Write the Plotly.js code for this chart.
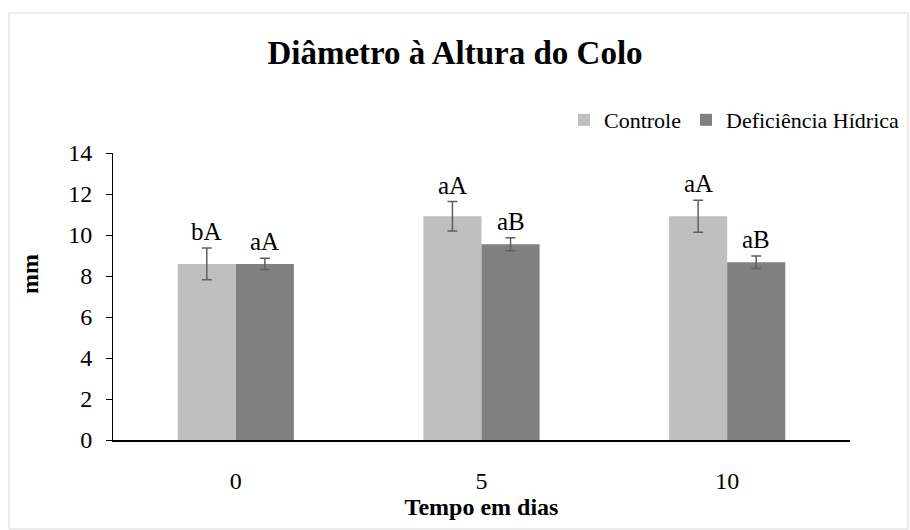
<!DOCTYPE html>
<html>
<head>
<meta charset="utf-8">
<script src="https://cdn.plot.ly/plotly-3.0.1.min.js"></script>
<style>html,body{margin:0;padding:0;background:#fff;}#chart{width:910px;height:530px;}</style>
</head>
<body>
<div id="chart"></div>
<script>
const categories = ["0", "5", "10"];
const seriesNames = ["Controle", "Deficiência Hídrica"];
const controle = [8.59, 10.91, 10.91];
const controleErr = [0.77, 0.72, 0.78];
const deficiencia = [8.59, 9.55, 8.67];
const deficienciaErr = [0.27, 0.32, 0.30];
const controleLetters = ["bA", "aA", "aA"];
const deficienciaLetters = ["aA", "aB", "aB"];

const FONT = "Liberation Serif";
const colors = ["#BFBFBF", "#808080"];
const errColor = "#5f5f5f";

function barTrace(name, y, err, color) {
  return {
    type: "bar", name: name, x: categories, y: y,
    marker: {color: color, line: {width: 0}},
    error_y: {type: "data", array: err, visible: true, color: errColor, thickness: 1.5, width: 5},
    hoverinfo: "y"
  };
}

const traces = [
  barTrace(seriesNames[0], controle, controleErr, colors[0]),
  barTrace(seriesNames[1], deficiencia, deficienciaErr, colors[1])
];

const halfBarPx = 29;
const annotations = [];
[[controle, controleErr, controleLetters, -1], [deficiencia, deficienciaErr, deficienciaLetters, 1]].forEach(function (s) {
  s[0].forEach(function (v, j) {
    annotations.push({
      x: j, y: v + s[1][j], xref: "x", yref: "y",
      text: s[2][j], showarrow: false, xanchor: "center", yanchor: "bottom",
      xshift: s[3] * halfBarPx, yshift: 1,
      font: {family: FONT, size: 25, color: "#000"}
    });
  });
});
annotations.push({
  text: "mm", xref: "paper", yref: "paper", x: (30 - 113) / 737, y: (440 - 274) / 287,
  xanchor: "center", yanchor: "middle", showarrow: false, textangle: -90,
  font: {family: FONT, size: 24, color: "#000", weight: "bold"}
});

const layout = {
  width: 910, height: 530,
  margin: {l: 113, r: 60, t: 153, b: 90},
  paper_bgcolor: "#fff", plot_bgcolor: "#fff",
  font: {family: FONT, color: "#000"},
  title: {
    text: "Diâmetro à Altura do Colo",
    x: 0.5, xref: "container", xanchor: "center",
    y: 1 - 52 / 530, yref: "container", yanchor: "middle",
    font: {family: FONT, size: 33, color: "#000", weight: "bold"}
  },
  barmode: "group", bargap: 0.527, bargroupgap: 0,
  showlegend: true,
  legend: {
    orientation: "h", xref: "container", yref: "container",
    x: 905 / 910, xanchor: "right", y: 1 - 120 / 530, yanchor: "middle",
    font: {family: FONT, size: 22, color: "#000"},
    itemwidth: 30, bgcolor: "rgba(0,0,0,0)"
  },
  xaxis: {
    type: "category", range: [-0.5, 2.5], autorange: false,
    showline: true, linecolor: "#000", linewidth: 1.5,
    ticks: "", showgrid: false, zeroline: false,
    tickfont: {family: FONT, size: 24, color: "#000"},
    ticklabelstandoff: 19,
    title: {text: "Tempo em dias", standoff: 0, font: {family: FONT, size: 24, color: "#000", weight: "bold"}}
  },
  yaxis: {
    range: [0, 14], autorange: false, dtick: 2, tick0: 0, showline: true, linecolor: "#000", linewidth: 1,
    ticks: "outside", ticklen: 6, tickcolor: "#000", tickwidth: 1,
    showgrid: false, zeroline: false,
    tickfont: {family: FONT, size: 24, color: "#000"},
    ticklabelstandoff: 9
  },
  annotations: annotations,
  shapes: [{
    type: "rect", xref: "paper", yref: "paper",
    x0: (9 - 113) / 737, x1: (908 - 113) / 737,
    y0: (440 - 529) / 287, y1: (440 - 13) / 287,
    line: {color: "#d9d9d9", width: 1}, fillcolor: "rgba(0,0,0,0)", layer: "below"
  }]
};

Plotly.newPlot("chart", traces, layout, {displayModeBar: false, staticPlot: true});
</script>
</body>
</html>
